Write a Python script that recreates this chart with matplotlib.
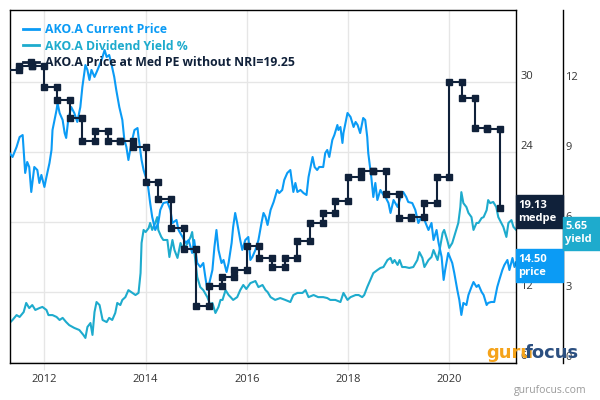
import matplotlib.pyplot as plt
import matplotlib.transforms as mtransforms
from matplotlib.lines import Line2D
from matplotlib.patches import Rectangle

# AKO.A current price (decimal years)
price_years = [
    2011.31, 2011.37, 2011.45, 2011.51, 2011.57, 2011.59, 2011.62, 2011.66, 2011.70, 2011.74, 2011.80, 2011.86, 2011.90, 2011.94,
    2012.00, 2012.04, 2012.10, 2012.14, 2012.16, 2012.24, 2012.26, 2012.30, 2012.36, 2012.40, 2012.43, 2012.47, 2012.53, 2012.59, 2012.65, 2012.71, 2012.75, 2012.81, 2012.85, 2012.89, 2012.93, 2012.99,
    2013.05, 2013.13, 2013.19, 2013.23, 2013.28, 2013.32, 2013.38, 2013.42, 2013.48, 2013.54, 2013.58, 2013.62, 2013.66, 2013.72, 2013.78, 2013.84, 2013.86, 2013.92, 2013.96,
    2014.04, 2014.09, 2014.13, 2014.19, 2014.25, 2014.29, 2014.35, 2014.43, 2014.49, 2014.53, 2014.61, 2014.65, 2014.73, 2014.79, 2014.85, 2014.92, 2014.96,
    2015.02, 2015.08, 2015.14, 2015.18, 2015.22, 2015.26, 2015.32, 2015.36, 2015.40, 2015.44, 2015.50, 2015.54, 2015.60, 2015.64, 2015.70, 2015.73, 2015.77, 2015.81, 2015.87, 2015.91, 2015.97,
    2016.03, 2016.07, 2016.11, 2016.17, 2016.23, 2016.29, 2016.33, 2016.37, 2016.41, 2016.47, 2016.53, 2016.60, 2016.64, 2016.70, 2016.74, 2016.80, 2016.86, 2016.92, 2016.96,
    2017.00, 2017.06, 2017.12, 2017.18, 2017.22, 2017.30, 2017.34, 2017.39, 2017.43, 2017.51, 2017.55, 2017.59, 2017.63, 2017.69, 2017.73, 2017.79, 2017.81, 2017.85, 2017.89, 2017.91, 2017.95, 2017.99,
    2018.05, 2018.11, 2018.15, 2018.19, 2018.24, 2018.30, 2018.34, 2018.38, 2018.40, 2018.46, 2018.50, 2018.54, 2018.58, 2018.64, 2018.70, 2018.74, 2018.80, 2018.84, 2018.90, 2018.98,
    2019.04, 2019.09, 2019.15, 2019.19, 2019.27, 2019.33, 2019.39, 2019.45, 2019.51, 2019.59, 2019.65, 2019.69, 2019.75, 2019.79, 2019.85, 2019.89, 2019.92, 2019.98,
    2020.06, 2020.10, 2020.16, 2020.20, 2020.24, 2020.28, 2020.34, 2020.38, 2020.44, 2020.48, 2020.54, 2020.58, 2020.64, 2020.68, 2020.74, 2020.77, 2020.83, 2020.89, 2020.95, 2020.99,
    2021.05, 2021.09, 2021.15, 2021.19, 2021.25, 2021.29, 2021.32,
]
price_vals = [
    23.87, 23.53, 24.39, 25.24, 25.41, 24.13, 22.16, 23.10, 22.67, 20.53, 22.67, 22.41, 21.30, 21.99,
    20.96, 21.81, 23.01, 24.13, 25.84, 27.56, 28.16, 27.30, 26.70, 25.58, 25.16, 26.70, 27.81, 27.30, 26.53, 27.81, 29.53, 31.41, 30.99, 30.13, 30.99, 30.39,
    30.99, 31.84, 32.70, 32.10, 32.27, 31.59, 30.39, 29.27, 27.81, 26.70, 24.99, 24.39, 23.27, 24.73, 25.84, 26.01, 25.24, 23.27, 22.41,
    21.30, 19.58, 18.39, 17.27, 17.87, 18.99, 19.58, 19.67, 18.99, 17.87, 18.13, 17.27, 16.67, 16.16, 16.41, 15.30, 16.41,
    14.44, 14.10, 14.44, 13.24, 12.13, 12.73, 13.84, 15.81, 17.27, 15.56, 14.44, 14.70, 13.67, 14.44, 16.16, 17.53, 18.73, 17.87, 16.41, 15.56, 16.41,
    16.67, 14.70, 14.96, 15.56, 16.41, 17.87, 18.73, 18.39, 17.70, 18.99, 19.67, 20.70, 20.44, 20.70, 21.56, 22.16, 22.41, 20.53, 21.30,
    20.53, 20.70, 20.44, 20.27, 21.81, 23.53, 22.67, 22.41, 22.67, 22.67, 23.87, 24.13, 23.53, 24.99, 25.41, 26.27, 25.84, 26.10, 24.73, 25.58, 26.44, 27.30,
    26.96, 26.10, 26.53, 26.27, 25.58, 26.87, 26.70, 25.24, 23.87, 21.81, 20.10, 21.30, 19.84, 20.70, 20.27, 20.10, 19.58, 18.73, 19.84, 19.24,
    20.10, 20.53, 20.10, 19.67, 19.58, 18.99, 17.87, 18.39, 18.13, 17.27, 17.87, 16.41, 17.27, 16.16, 14.96, 12.99, 13.84, 15.30,
    14.44, 13.59, 12.13, 11.27, 9.99, 11.02, 10.84, 11.70, 12.39, 12.81, 12.39, 12.56, 11.96, 11.70, 10.84, 11.02, 11.10, 11.10, 12.39, 12.99,
    13.84, 14.27, 14.70, 13.84, 14.87, 14.10, 14.50,
]

# AKO.A dividend yield %
yield_years = [
    2011.31, 2011.37, 2011.45, 2011.51, 2011.59, 2011.64, 2011.70, 2011.76, 2011.82, 2011.90, 2011.96,
    2012.04, 2012.08, 2012.16, 2012.24, 2012.30, 2012.36, 2012.43, 2012.49, 2012.59, 2012.69, 2012.77, 2012.81, 2012.85, 2012.91, 2012.95, 2012.99,
    2013.03, 2013.09, 2013.15, 2013.23, 2013.28, 2013.34, 2013.40, 2013.44, 2013.50, 2013.54, 2013.60, 2013.66, 2013.74, 2013.80, 2013.86, 2013.90, 2013.92, 2013.96,
    2014.00, 2014.06, 2014.09, 2014.13, 2014.19, 2014.23, 2014.25, 2014.31, 2014.35, 2014.43, 2014.47, 2014.53, 2014.57, 2014.63, 2014.69, 2014.75, 2014.83, 2014.89, 2014.92, 2014.96,
    2015.02, 2015.08, 2015.14, 2015.22, 2015.28, 2015.32, 2015.38, 2015.44, 2015.48, 2015.52, 2015.58, 2015.64, 2015.68, 2015.73, 2015.81, 2015.87, 2015.93, 2015.99,
    2016.07, 2016.17, 2016.23, 2016.31, 2016.37, 2016.41, 2016.47, 2016.56, 2016.66, 2016.76, 2016.86, 2016.92,
    2017.00, 2017.10, 2017.16, 2017.22, 2017.32, 2017.41, 2017.51, 2017.59, 2017.65, 2017.75, 2017.85, 2017.91, 2017.99,
    2018.05, 2018.15, 2018.21, 2018.28, 2018.32, 2018.38, 2018.44, 2018.50, 2018.58, 2018.64, 2018.70, 2018.78, 2018.84, 2018.88, 2018.92, 2018.98,
    2019.02, 2019.07, 2019.13, 2019.21, 2019.29, 2019.37, 2019.41, 2019.47, 2019.51, 2019.59, 2019.65, 2019.69, 2019.77, 2019.81, 2019.87, 2019.90, 2019.96,
    2020.00, 2020.06, 2020.12, 2020.18, 2020.22, 2020.24, 2020.28, 2020.34, 2020.38, 2020.44, 2020.48, 2020.54, 2020.58, 2020.64, 2020.68, 2020.74, 2020.77, 2020.81, 2020.87, 2020.93, 2020.97,
    2021.03, 2021.07, 2021.13, 2021.17, 2021.23, 2021.27, 2021.32,
]
yield_vals = [
    1.65, 1.78, 1.99, 1.91, 2.12, 2.51, 2.29, 2.42, 2.21, 2.29, 2.34,
    2.21, 1.99, 1.99, 1.91, 1.78, 1.87, 1.69, 1.56, 1.44, 1.35, 1.14, 1.01, 1.48, 1.65, 1.14, 2.12,
    2.55, 2.42, 1.78, 1.69, 1.87, 1.78, 2.08, 2.51, 2.42, 2.64, 2.76, 3.06, 2.94, 2.85, 2.94, 3.79, 5.08, 5.64,
    5.55, 5.72, 5.94, 5.64, 5.94, 6.19, 5.64, 5.34, 5.21, 5.21, 4.48, 5.21, 4.78, 4.44, 5.08, 4.78, 5.08, 5.34, 5.55, 4.78,
    3.62, 3.19, 3.06, 2.76, 2.42, 2.51, 2.08, 2.34, 2.64, 2.64, 3.06, 2.85, 2.76, 2.64, 2.76, 3.06, 3.28, 3.11,
    3.36, 3.45, 3.19, 3.28, 3.06, 2.98, 2.76, 2.64, 2.72, 2.64, 2.55, 2.85,
    2.94, 2.94, 3.06, 2.76, 2.85, 2.76, 2.76, 2.72, 2.64, 2.64, 2.55, 2.94, 2.64,
    2.76, 2.85, 2.85, 2.76, 2.85, 3.19, 3.49, 3.79, 3.92, 4.01, 4.05, 4.35, 4.44, 4.22, 4.35, 4.14,
    4.35, 4.05, 4.05, 4.01, 4.05, 4.35, 4.69, 4.44, 4.05, 4.35, 4.48, 4.78, 4.35, 4.78, 5.51, 5.64, 5.21,
    4.87, 5.08, 5.51, 5.94, 6.62, 7.26, 6.79, 6.62, 6.37, 6.19, 5.64, 5.94, 5.94, 6.15, 6.19, 6.49, 6.92, 6.79, 6.84, 6.62, 6.19,
    5.94, 5.77, 5.34, 5.94, 6.06, 5.77, 5.65,
]

# price at median PE without NRI, one value per quarter
medpe_quarters = [
    2011.25, 2011.50, 2011.75, 2012.00, 2012.25, 2012.50, 2012.75, 2013.00, 2013.25, 2013.50,
    2013.75, 2014.00, 2014.25, 2014.50, 2014.75, 2015.00, 2015.25, 2015.50, 2015.75, 2016.00,
    2016.25, 2016.50, 2016.75, 2017.00, 2017.25, 2017.50, 2017.75, 2018.00, 2018.25, 2018.50,
    2018.75, 2019.00, 2019.25, 2019.50, 2019.75, 2020.00, 2020.25, 2020.50, 2020.75, 2021.00,
]
medpe_vals = [
    30.99, 31.35, 31.35, 29.53, 28.41, 26.87, 24.90, 25.76, 24.90, 24.90,
    24.39, 21.39, 19.93, 17.44, 15.64, 10.76, 12.47, 13.24, 13.84, 15.90,
    14.87, 14.10, 14.87, 16.33, 17.87, 18.73, 19.76, 21.81, 22.33, 22.33,
    20.36, 18.30, 18.40, 19.59, 21.81, 29.96, 28.59, 26.01, 25.93, 19.13,
]

year_ticks = [2012, 2014, 2016, 2018, 2020]
price_ticks = [6, 12, 18, 24, 30]
yield_ticks = [0, 3, 6, 9, 12]

PRICE_C = '#0b9bf5'
YIELD_C = '#1eabcd'
MEDPE_C = '#10213a'
TXT = '#333333'

plt.rcParams['font.family'] = ['Open Sans', 'DejaVu Sans']

fig = plt.figure(figsize=(6, 4), dpi=100)
# main axes holds the yield (drawn first, underneath)
ax = fig.add_axes([9.5 / 600, 37 / 400, 506.5 / 600, 353.5 / 400])
ax.plot(yield_years, yield_vals, color=YIELD_C, lw=1.5)
ax.set_xlim(2011.31, 2021.32)
ax.set_ylim(-0.064, 15.09)
ax.set_xticks(year_ticks)
ax.set_xticklabels([str(y) for y in year_ticks])
ax.set_yticks(yield_ticks)
ax.grid(color='#e6e6e6', lw=1)
for s in ax.spines.values():
    s.set_color('black')
    s.set_linewidth(1)

# twin axes with price + med PE line
ax2 = ax.twinx()
# twinx moves the first axis' ticks to the left, put them back on the right
ax.yaxis.tick_right()
ax.spines['right'].set_position(('axes', (563 - 9.5) / 506.5))
ax.tick_params(axis='x', length=5, color='#e6e6e6', pad=3, labelsize=8, labelcolor=TXT)
ax.tick_params(axis='y', length=0, pad=1.5, labelsize=8, labelcolor=TXT)

ax2.set_ylim(5.87, 36.17)
ax2.set_yticks(price_ticks)
ax2.tick_params(axis='y', length=0, pad=3, labelsize=8, labelcolor=TXT)
for side in ['left', 'top', 'bottom']:
    ax2.spines[side].set_visible(False)
ax2.spines['right'].set_color('black')
ax2.spines['right'].set_linewidth(1)

ax2.plot(price_years, price_vals, color=PRICE_C, lw=1.5)

# step line: horizontal for each quarter, markers at both ends
mx, my = [], []
for i in range(len(medpe_quarters) - 1):
    mx += [medpe_quarters[i], medpe_quarters[i + 1]]
    my += [medpe_vals[i], medpe_vals[i]]
mx.append(medpe_quarters[-1])
my.append(medpe_vals[-1])
ax2.plot(mx, my, color=MEDPE_C, lw=1.5, marker='s', ms=4.5)

# tick labels sit a bit above their grid lines
up = mtransforms.ScaledTranslation(0, 6 / 100, fig.dpi_scale_trans)
for lbl in ax.get_yticklabels() + ax2.get_yticklabels():
    lbl.set_transform(lbl.get_transform() + up)

handles = [
    Line2D([], [], color=PRICE_C, lw=2),
    Line2D([], [], color=YIELD_C, lw=2),
    Line2D([], [], color=MEDPE_C, lw=2, marker='s', ms=4.5),
]
labels = ['AKO.A Current Price', 'AKO.A Dividend Yield %',
          'AKO.A Price at Med PE without NRI=19.25']
leg = ax2.legend(handles, labels, loc='upper left', bbox_to_anchor=(0.027, 0.962),
                 frameon=False, borderpad=0, borderaxespad=0, handlelength=1.3,
                 handletextpad=0.45, labelspacing=0.3, labelcolor='linecolor',
                 prop={'weight': 'bold', 'size': 8.8})
leg.set_zorder(20)


def badge(axis, value, lines, color, x0, w):
    ypx = axis.transData.transform((2021.0, value))[1]
    cy = ypx - 3.5
    fig.add_artist(Rectangle((x0 / 600, (cy - 16.5) / 400), w / 600, 33 / 400,
                             transform=fig.transFigure, color=color, zorder=30))
    fig.text((x0 + 2) / 600, cy / 400, lines, color='white', fontsize=8,
             fontweight='bold', va='center', ha='left', linespacing=1.2, zorder=31)


badge(ax2, medpe_vals[-1], f'{medpe_vals[-1]:.2f}\nmedpe', MEDPE_C, 516, 47)
badge(ax2, price_vals[-1], f'{price_vals[-1]:.2f}\nprice', PRICE_C, 516, 47)
badge(ax, yield_vals[-1], f'{yield_vals[-1]:.2f}\nyield', YIELD_C, 563, 37)

# watermark
fig.text(486 / 600, 42 / 400, 'guru', color='#f5a31a', fontsize=13, fontweight='bold',
         family='DejaVu Sans', va='baseline', zorder=40)
fig.text(525 / 600, 42 / 400, 'focus', color='#2b4f80', fontsize=13, fontweight='bold',
         family='DejaVu Sans', va='baseline', zorder=40)
fig.text(550 / 600, 10 / 400, 'gurufocus.com', color='#9a9a9a', fontsize=7.5,
         ha='center', va='center')

fig.savefig('out.png', dpi=100)
